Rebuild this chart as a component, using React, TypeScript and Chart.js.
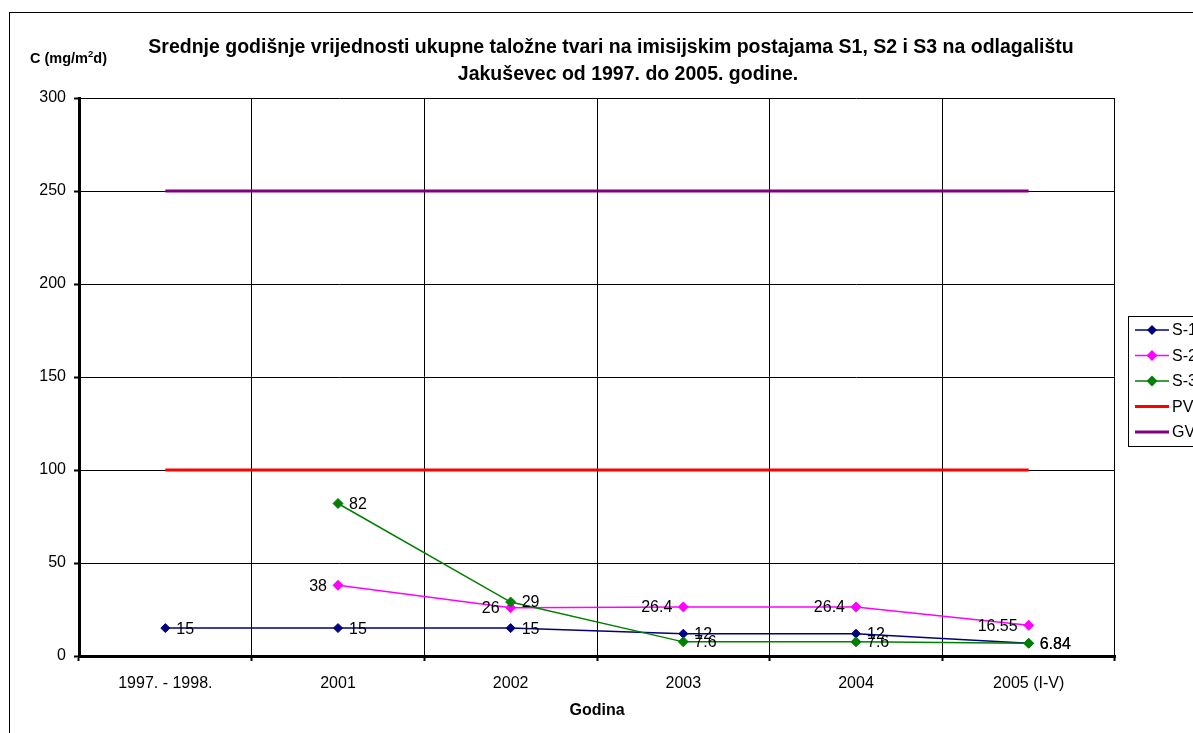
import React, { useEffect, useRef } from "react";
import { Chart, registerables } from "chart.js";

Chart.register(...registerables);

const categories = ["1997. - 1998.", "2001", "2002", "2003", "2004", "2005 (I-V)"];
const s1Values = [15, 15, 15, 12, 12, 6.84];
const s2Values = [null, 38, 26, 26.4, 26.4, 16.55];
const s3Values = [null, 82, 29, 7.6, 7.6, 6.84];
const pvValues = [100, 100, 100, 100, 100, 100];
const gvValues = [250, 250, 250, 250, 250, 250];
const seriesNames = ["S-1", "S-2", "S-3", "PV", "GV"];
const titleLines = [
  "Srednje godišnje vrijednosti ukupne taložne tvari na imisijskim postajama S1, S2 i S3 na odlagalištu",
  "Jakuševec od 1997. do 2005. godine.",
];
const xTitle = "Godina";

const FONT = "Arial, 'Liberation Sans', sans-serif";
const colors = ["#000080", "#FF00FF", "#008000", "#FF0000", "#800080"];
const labelSide = ["right", "left", "right"];

const decorPlugin = {
  id: "decor",
  afterDatasetsDraw(chart: any) {
    const ctx = chart.ctx;
    ctx.save();
    ctx.font = `16px ${FONT}`;
    ctx.fillStyle = "#000";
    ctx.textBaseline = "middle";
    for (let d = 0; d < 3; d++) {
      const meta = chart.getDatasetMeta(d);
      const data = chart.data.datasets[d].data;
      meta.data.forEach((pt: any, i: number) => {
        const v = data[i];
        if (v === null || v === undefined) return;
        const txt = String(v);
        if (labelSide[d] === "right") {
          ctx.textAlign = "left";
          ctx.fillText(txt, pt.x + 11, pt.y + 1);
        } else {
          ctx.textAlign = "right";
          ctx.fillText(txt, pt.x - 11, pt.y + 1);
        }
      });
    }
    ctx.restore();
  },
  afterDraw(chart: any) {
    const ctx = chart.ctx;
    ctx.save();
    // outer border
    ctx.strokeStyle = "#000";
    ctx.lineWidth = 1;
    ctx.strokeRect(9.5, 12.5, 1200, 740);
    // title
    ctx.fillStyle = "#000";
    ctx.font = `bold 19.5px ${FONT}`;
    ctx.textAlign = "center";
    ctx.textBaseline = "alphabetic";
    ctx.fillText(titleLines[0], 611, 53);
    ctx.fillText(titleLines[1], 628, 79.5);
    // unit label C (mg/m2d)
    ctx.textAlign = "left";
    ctx.font = `bold 14.5px ${FONT}`;
    let x = 30;
    const y = 62.5;
    const p1 = "C (mg/m";
    ctx.fillText(p1, x, y);
    x += ctx.measureText(p1).width;
    ctx.font = `bold 9.5px ${FONT}`;
    ctx.fillText("2", x, y - 6);
    x += ctx.measureText("2").width;
    ctx.font = `bold 14.5px ${FONT}`;
    ctx.fillText("d)", x, y);
    // legend
    ctx.strokeRect(1128.5, 316.5, 120, 130);
    ctx.font = `16px ${FONT}`;
    ctx.textBaseline = "middle";
    for (let i = 0; i < seriesNames.length; i++) {
      const ly = 330 + i * 25.5;
      ctx.strokeStyle = colors[i];
      ctx.lineWidth = i < 3 ? 1.5 : 3;
      ctx.beginPath();
      ctx.moveTo(1135, ly);
      ctx.lineTo(1169, ly);
      ctx.stroke();
      if (i < 3) {
        const r = i === 0 ? 5 : 5.5;
        ctx.fillStyle = colors[i];
        ctx.beginPath();
        ctx.moveTo(1152 - r, ly);
        ctx.lineTo(1152, ly - r);
        ctx.lineTo(1152 + r, ly);
        ctx.lineTo(1152, ly + r);
        ctx.closePath();
        ctx.fill();
      }
      ctx.fillStyle = "#000";
      ctx.fillText(seriesNames[i], 1172, ly + 1);
    }
    ctx.restore();
  },
};

export default function App() {
  const ref = useRef<HTMLCanvasElement | null>(null);
  useEffect(() => {
    if (!ref.current) return;
    const mk = (idx: number, values: any[], order: number, marker: boolean, r: number) => ({
      label: seriesNames[idx],
      data: values,
      borderColor: colors[idx],
      backgroundColor: colors[idx],
      borderWidth: marker ? 1.5 : 3,
      pointStyle: "rectRot",
      pointRadius: marker ? r : 0,
      pointHoverRadius: marker ? r : 0,
      pointBorderWidth: 1,
      pointBackgroundColor: colors[idx],
      pointBorderColor: colors[idx],
      tension: 0,
      spanGaps: false,
      order,
    });
    const chart = new Chart(ref.current, {
      type: "line",
      data: {
        labels: categories,
        datasets: [
          mk(0, s1Values, 2, true, 4.5),
          mk(1, s2Values, 1, true, 5),
          mk(2, s3Values, 0, true, 5),
          mk(3, pvValues, 3, false, 0),
          mk(4, gvValues, 4, false, 0),
        ],
      },
      options: {
        responsive: false,
        animation: false,
        events: [],
        layout: { padding: { left: 0, top: 98, right: 78, bottom: 0 } },
        plugins: {
          legend: { display: false },
          title: { display: false },
          tooltip: { enabled: false },
        },
        scales: {
          x: {
            type: "category",
            offset: true,
            grid: {
              offset: true,
              color: "#000",
              lineWidth: 1,
              tickLength: 5,
              tickColor: "#000",
              tickWidth: 2,
            },
            border: { display: true, color: "#000", width: 3 },
            ticks: {
              color: "#000",
              font: { family: FONT, size: 16 },
              padding: 13,
              maxRotation: 0,
              autoSkip: false,
            },
            title: {
              display: true,
              text: xTitle,
              color: "#000",
              font: { family: FONT, size: 16, weight: "bold" },
              padding: { top: 0, bottom: 13 },
            },
            afterFit: (s: any) => {
              s.height = 77;
            },
          },
          y: {
            min: 0,
            max: 300,
            grid: {
              color: "#000",
              lineWidth: 1,
              tickLength: 5,
              tickColor: "#000",
              tickWidth: 2,
            },
            border: { display: true, color: "#000", width: 3 },
            ticks: {
              stepSize: 50,
              color: "#000",
              font: { family: FONT, size: 16 },
              padding: 8,
            },
            afterFit: (s: any) => {
              s.width = 79;
            },
          },
        },
      },
      plugins: [decorPlugin],
    } as any);
    return () => chart.destroy();
  }, []);
  return (
    <div style={{ position: "fixed", left: 0, top: 0, width: 1193, height: 733, background: "#fff" }}>
      <canvas ref={ref} width={1193} height={733} style={{ display: "block" }} />
    </div>
  );
}
